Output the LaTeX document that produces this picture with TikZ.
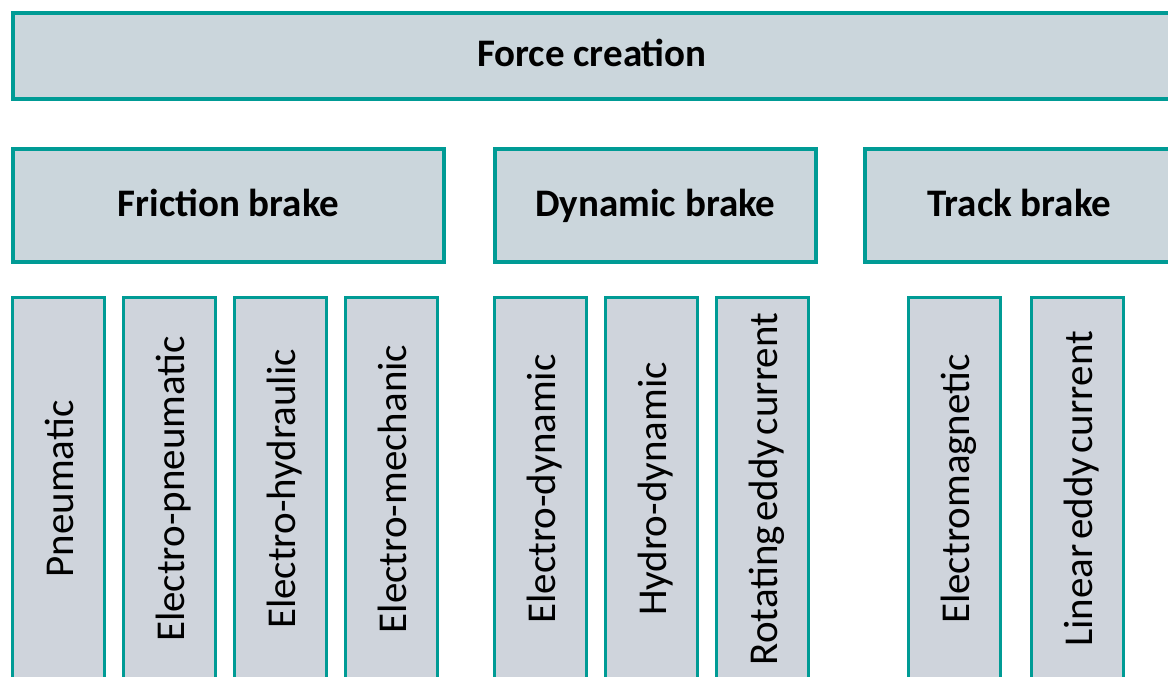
\documentclass[tikz,border=0pt]{standalone}
\usepackage{fontspec}
\setmainfont{Carlito}
\definecolor{frameTeal}{RGB}{0,155,149}
\definecolor{headFill}{RGB}{203,214,220}
\definecolor{leafFill}{RGB}{207,212,220}
% narrow word spacing for the upright labels
\newcommand\leaffont{\fontsize{41}{49}\selectfont\spaceskip=4.5pt\relax}
\begin{document}
\begin{tikzpicture}[x=1pt,y=-1pt,
  headbox/.style={draw=frameTeal, fill=headFill, line width=4pt, inner sep=0pt,
    font=\fontsize{39}{46}\selectfont\bfseries, text height=30pt, text depth=9pt},
  leafbox/.style={draw=frameTeal, fill=leafFill, line width=3pt, inner sep=0pt,
    rotate=90, minimum width=383pt, minimum height=92pt,
    font=\leaffont, text height=38pt, text depth=9pt}]
\useasboundingbox (0,0) rectangle (1168,677);
\clip (0,0) rectangle (1168,677);

% top level
\node[headbox, minimum width=1158pt, minimum height=86pt] (force) at (592,56) {Force creation};

% brake families
\node[headbox, minimum width=431pt, minimum height=113pt] (friction) at (228.5,205.5) {Friction brake};
\node[headbox, minimum width=321pt, minimum height=113pt] (dynamic) at (655.5,205.5) {Dynamic brake};
\node[headbox, minimum width=309pt, minimum height=113pt] (track) at (1019.5,205.5) {Track brake};

% individual brake types
\node[leafbox] (pneu)   at (58.5,489)  {Pneumatic};
\node[leafbox] (epneu)  at (169.5,489) {Electro-pneumatic};
\node[leafbox] (ehyd)   at (280.5,489) {Electro-hydraulic};
\node[leafbox] (emech)  at (391.5,489) {Electro-mechanic};
\node[leafbox] (edyn)   at (540.5,489) {Electro-dynamic};
\node[leafbox] (hdyn)   at (651.5,489) {Hydro-dynamic};
\node[leafbox] (rotedd) at (762.5,489) {Rotating eddy current};
\node[leafbox] (emag)   at (954.5,489) {Electromagnetic};
\node[leafbox] (lined)  at (1077.5,489) {Linear eddy current};
\end{tikzpicture}
\end{document}
